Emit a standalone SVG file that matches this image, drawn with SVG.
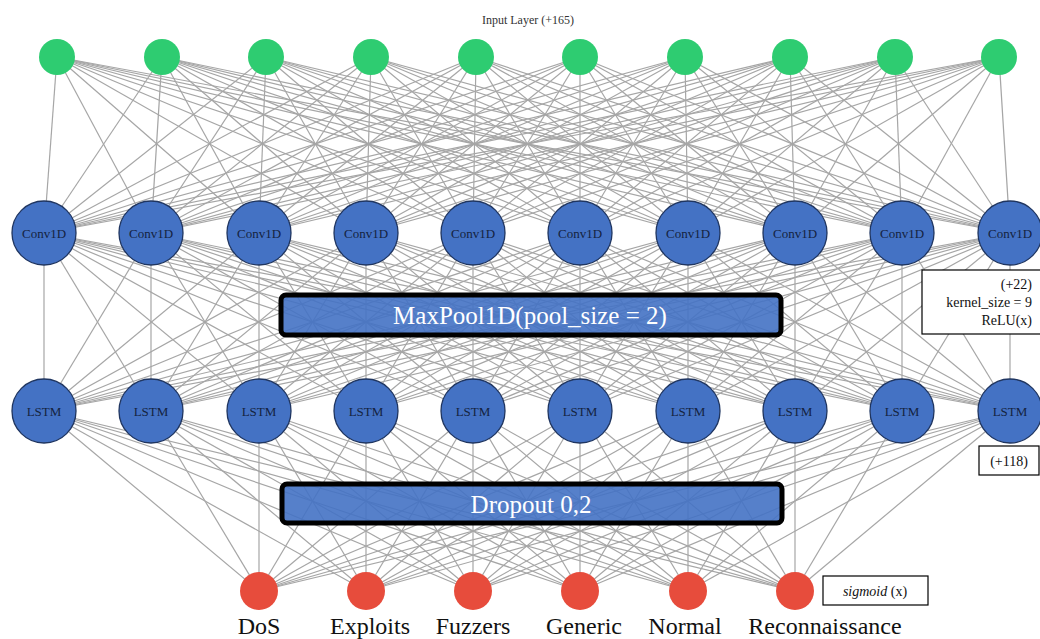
<svg xmlns="http://www.w3.org/2000/svg" width="1040" height="639" viewBox="0 0 1040 639">
<style>
.e{stroke:#a6a6a6;stroke-width:1.2;fill:none}
.in{fill:#2ecc71}
.hid{fill:#4472c4;stroke:#1f3560;stroke-width:1.3}
.out{fill:#e74c3c}
.nt{font-family:"Liberation Serif","Times New Roman",serif;font-size:13px;fill:#14233f;text-anchor:middle}
.lb{font-family:"Liberation Serif","Times New Roman",serif;font-size:24px;fill:#111;text-anchor:middle}
.bar{fill:#4472c4;fill-opacity:0.9;stroke:#000;stroke-width:5}
.bt{font-family:"Liberation Serif","Times New Roman",serif;font-size:25px;fill:#fff;text-anchor:middle}
.note{fill:#fff;stroke:#000;stroke-width:1.2}
.st{font-family:"Liberation Serif","Times New Roman",serif;font-size:14px;fill:#111}
</style>
<rect width="1040" height="639" fill="#fff"/>
<g id="connectors">
<g id="input-conv">
<line class="e" x1="57" y1="57" x2="44" y2="233"/><line class="e" x1="57" y1="57" x2="151" y2="233"/><line class="e" x1="57" y1="57" x2="259" y2="233"/><line class="e" x1="57" y1="57" x2="366" y2="233"/><line class="e" x1="57" y1="57" x2="473" y2="233"/><line class="e" x1="57" y1="57" x2="580" y2="233"/><line class="e" x1="57" y1="57" x2="688" y2="233"/><line class="e" x1="57" y1="57" x2="795" y2="233"/><line class="e" x1="57" y1="57" x2="902" y2="233"/><line class="e" x1="57" y1="57" x2="1010" y2="233"/>
<line class="e" x1="162" y1="57" x2="44" y2="233"/><line class="e" x1="162" y1="57" x2="151" y2="233"/><line class="e" x1="162" y1="57" x2="259" y2="233"/><line class="e" x1="162" y1="57" x2="366" y2="233"/><line class="e" x1="162" y1="57" x2="473" y2="233"/><line class="e" x1="162" y1="57" x2="580" y2="233"/><line class="e" x1="162" y1="57" x2="688" y2="233"/><line class="e" x1="162" y1="57" x2="795" y2="233"/><line class="e" x1="162" y1="57" x2="902" y2="233"/><line class="e" x1="162" y1="57" x2="1010" y2="233"/>
<line class="e" x1="266" y1="57" x2="44" y2="233"/><line class="e" x1="266" y1="57" x2="151" y2="233"/><line class="e" x1="266" y1="57" x2="259" y2="233"/><line class="e" x1="266" y1="57" x2="366" y2="233"/><line class="e" x1="266" y1="57" x2="473" y2="233"/><line class="e" x1="266" y1="57" x2="580" y2="233"/><line class="e" x1="266" y1="57" x2="688" y2="233"/><line class="e" x1="266" y1="57" x2="795" y2="233"/><line class="e" x1="266" y1="57" x2="902" y2="233"/><line class="e" x1="266" y1="57" x2="1010" y2="233"/>
<line class="e" x1="371" y1="57" x2="44" y2="233"/><line class="e" x1="371" y1="57" x2="151" y2="233"/><line class="e" x1="371" y1="57" x2="259" y2="233"/><line class="e" x1="371" y1="57" x2="366" y2="233"/><line class="e" x1="371" y1="57" x2="473" y2="233"/><line class="e" x1="371" y1="57" x2="580" y2="233"/><line class="e" x1="371" y1="57" x2="688" y2="233"/><line class="e" x1="371" y1="57" x2="795" y2="233"/><line class="e" x1="371" y1="57" x2="902" y2="233"/><line class="e" x1="371" y1="57" x2="1010" y2="233"/>
<line class="e" x1="476" y1="57" x2="44" y2="233"/><line class="e" x1="476" y1="57" x2="151" y2="233"/><line class="e" x1="476" y1="57" x2="259" y2="233"/><line class="e" x1="476" y1="57" x2="366" y2="233"/><line class="e" x1="476" y1="57" x2="473" y2="233"/><line class="e" x1="476" y1="57" x2="580" y2="233"/><line class="e" x1="476" y1="57" x2="688" y2="233"/><line class="e" x1="476" y1="57" x2="795" y2="233"/><line class="e" x1="476" y1="57" x2="902" y2="233"/><line class="e" x1="476" y1="57" x2="1010" y2="233"/>
<line class="e" x1="580" y1="57" x2="44" y2="233"/><line class="e" x1="580" y1="57" x2="151" y2="233"/><line class="e" x1="580" y1="57" x2="259" y2="233"/><line class="e" x1="580" y1="57" x2="366" y2="233"/><line class="e" x1="580" y1="57" x2="473" y2="233"/><line class="e" x1="580" y1="57" x2="580" y2="233"/><line class="e" x1="580" y1="57" x2="688" y2="233"/><line class="e" x1="580" y1="57" x2="795" y2="233"/><line class="e" x1="580" y1="57" x2="902" y2="233"/><line class="e" x1="580" y1="57" x2="1010" y2="233"/>
<line class="e" x1="685" y1="57" x2="44" y2="233"/><line class="e" x1="685" y1="57" x2="151" y2="233"/><line class="e" x1="685" y1="57" x2="259" y2="233"/><line class="e" x1="685" y1="57" x2="366" y2="233"/><line class="e" x1="685" y1="57" x2="473" y2="233"/><line class="e" x1="685" y1="57" x2="580" y2="233"/><line class="e" x1="685" y1="57" x2="688" y2="233"/><line class="e" x1="685" y1="57" x2="795" y2="233"/><line class="e" x1="685" y1="57" x2="902" y2="233"/><line class="e" x1="685" y1="57" x2="1010" y2="233"/>
<line class="e" x1="790" y1="57" x2="44" y2="233"/><line class="e" x1="790" y1="57" x2="151" y2="233"/><line class="e" x1="790" y1="57" x2="259" y2="233"/><line class="e" x1="790" y1="57" x2="366" y2="233"/><line class="e" x1="790" y1="57" x2="473" y2="233"/><line class="e" x1="790" y1="57" x2="580" y2="233"/><line class="e" x1="790" y1="57" x2="688" y2="233"/><line class="e" x1="790" y1="57" x2="795" y2="233"/><line class="e" x1="790" y1="57" x2="902" y2="233"/><line class="e" x1="790" y1="57" x2="1010" y2="233"/>
<line class="e" x1="895" y1="57" x2="44" y2="233"/><line class="e" x1="895" y1="57" x2="151" y2="233"/><line class="e" x1="895" y1="57" x2="259" y2="233"/><line class="e" x1="895" y1="57" x2="366" y2="233"/><line class="e" x1="895" y1="57" x2="473" y2="233"/><line class="e" x1="895" y1="57" x2="580" y2="233"/><line class="e" x1="895" y1="57" x2="688" y2="233"/><line class="e" x1="895" y1="57" x2="795" y2="233"/><line class="e" x1="895" y1="57" x2="902" y2="233"/><line class="e" x1="895" y1="57" x2="1010" y2="233"/>
<line class="e" x1="999" y1="57" x2="44" y2="233"/><line class="e" x1="999" y1="57" x2="151" y2="233"/><line class="e" x1="999" y1="57" x2="259" y2="233"/><line class="e" x1="999" y1="57" x2="366" y2="233"/><line class="e" x1="999" y1="57" x2="473" y2="233"/><line class="e" x1="999" y1="57" x2="580" y2="233"/><line class="e" x1="999" y1="57" x2="688" y2="233"/><line class="e" x1="999" y1="57" x2="795" y2="233"/><line class="e" x1="999" y1="57" x2="902" y2="233"/><line class="e" x1="999" y1="57" x2="1010" y2="233"/>
</g>
<g id="conv-lstm">
<line class="e" x1="44" y1="233" x2="44" y2="411"/><line class="e" x1="44" y1="233" x2="151" y2="411"/><line class="e" x1="44" y1="233" x2="259" y2="411"/><line class="e" x1="44" y1="233" x2="366" y2="411"/><line class="e" x1="44" y1="233" x2="473" y2="411"/><line class="e" x1="44" y1="233" x2="580" y2="411"/><line class="e" x1="44" y1="233" x2="688" y2="411"/><line class="e" x1="44" y1="233" x2="795" y2="411"/><line class="e" x1="44" y1="233" x2="902" y2="411"/><line class="e" x1="44" y1="233" x2="1010" y2="411"/>
<line class="e" x1="151" y1="233" x2="44" y2="411"/><line class="e" x1="151" y1="233" x2="151" y2="411"/><line class="e" x1="151" y1="233" x2="259" y2="411"/><line class="e" x1="151" y1="233" x2="366" y2="411"/><line class="e" x1="151" y1="233" x2="473" y2="411"/><line class="e" x1="151" y1="233" x2="580" y2="411"/><line class="e" x1="151" y1="233" x2="688" y2="411"/><line class="e" x1="151" y1="233" x2="795" y2="411"/><line class="e" x1="151" y1="233" x2="902" y2="411"/><line class="e" x1="151" y1="233" x2="1010" y2="411"/>
<line class="e" x1="259" y1="233" x2="44" y2="411"/><line class="e" x1="259" y1="233" x2="151" y2="411"/><line class="e" x1="259" y1="233" x2="259" y2="411"/><line class="e" x1="259" y1="233" x2="366" y2="411"/><line class="e" x1="259" y1="233" x2="473" y2="411"/><line class="e" x1="259" y1="233" x2="580" y2="411"/><line class="e" x1="259" y1="233" x2="688" y2="411"/><line class="e" x1="259" y1="233" x2="795" y2="411"/><line class="e" x1="259" y1="233" x2="902" y2="411"/><line class="e" x1="259" y1="233" x2="1010" y2="411"/>
<line class="e" x1="366" y1="233" x2="44" y2="411"/><line class="e" x1="366" y1="233" x2="151" y2="411"/><line class="e" x1="366" y1="233" x2="259" y2="411"/><line class="e" x1="366" y1="233" x2="366" y2="411"/><line class="e" x1="366" y1="233" x2="473" y2="411"/><line class="e" x1="366" y1="233" x2="580" y2="411"/><line class="e" x1="366" y1="233" x2="688" y2="411"/><line class="e" x1="366" y1="233" x2="795" y2="411"/><line class="e" x1="366" y1="233" x2="902" y2="411"/><line class="e" x1="366" y1="233" x2="1010" y2="411"/>
<line class="e" x1="473" y1="233" x2="44" y2="411"/><line class="e" x1="473" y1="233" x2="151" y2="411"/><line class="e" x1="473" y1="233" x2="259" y2="411"/><line class="e" x1="473" y1="233" x2="366" y2="411"/><line class="e" x1="473" y1="233" x2="473" y2="411"/><line class="e" x1="473" y1="233" x2="580" y2="411"/><line class="e" x1="473" y1="233" x2="688" y2="411"/><line class="e" x1="473" y1="233" x2="795" y2="411"/><line class="e" x1="473" y1="233" x2="902" y2="411"/><line class="e" x1="473" y1="233" x2="1010" y2="411"/>
<line class="e" x1="580" y1="233" x2="44" y2="411"/><line class="e" x1="580" y1="233" x2="151" y2="411"/><line class="e" x1="580" y1="233" x2="259" y2="411"/><line class="e" x1="580" y1="233" x2="366" y2="411"/><line class="e" x1="580" y1="233" x2="473" y2="411"/><line class="e" x1="580" y1="233" x2="580" y2="411"/><line class="e" x1="580" y1="233" x2="688" y2="411"/><line class="e" x1="580" y1="233" x2="795" y2="411"/><line class="e" x1="580" y1="233" x2="902" y2="411"/><line class="e" x1="580" y1="233" x2="1010" y2="411"/>
<line class="e" x1="688" y1="233" x2="44" y2="411"/><line class="e" x1="688" y1="233" x2="151" y2="411"/><line class="e" x1="688" y1="233" x2="259" y2="411"/><line class="e" x1="688" y1="233" x2="366" y2="411"/><line class="e" x1="688" y1="233" x2="473" y2="411"/><line class="e" x1="688" y1="233" x2="580" y2="411"/><line class="e" x1="688" y1="233" x2="688" y2="411"/><line class="e" x1="688" y1="233" x2="795" y2="411"/><line class="e" x1="688" y1="233" x2="902" y2="411"/><line class="e" x1="688" y1="233" x2="1010" y2="411"/>
<line class="e" x1="795" y1="233" x2="44" y2="411"/><line class="e" x1="795" y1="233" x2="151" y2="411"/><line class="e" x1="795" y1="233" x2="259" y2="411"/><line class="e" x1="795" y1="233" x2="366" y2="411"/><line class="e" x1="795" y1="233" x2="473" y2="411"/><line class="e" x1="795" y1="233" x2="580" y2="411"/><line class="e" x1="795" y1="233" x2="688" y2="411"/><line class="e" x1="795" y1="233" x2="795" y2="411"/><line class="e" x1="795" y1="233" x2="902" y2="411"/><line class="e" x1="795" y1="233" x2="1010" y2="411"/>
<line class="e" x1="902" y1="233" x2="44" y2="411"/><line class="e" x1="902" y1="233" x2="151" y2="411"/><line class="e" x1="902" y1="233" x2="259" y2="411"/><line class="e" x1="902" y1="233" x2="366" y2="411"/><line class="e" x1="902" y1="233" x2="473" y2="411"/><line class="e" x1="902" y1="233" x2="580" y2="411"/><line class="e" x1="902" y1="233" x2="688" y2="411"/><line class="e" x1="902" y1="233" x2="795" y2="411"/><line class="e" x1="902" y1="233" x2="902" y2="411"/><line class="e" x1="902" y1="233" x2="1010" y2="411"/>
<line class="e" x1="1010" y1="233" x2="44" y2="411"/><line class="e" x1="1010" y1="233" x2="151" y2="411"/><line class="e" x1="1010" y1="233" x2="259" y2="411"/><line class="e" x1="1010" y1="233" x2="366" y2="411"/><line class="e" x1="1010" y1="233" x2="473" y2="411"/><line class="e" x1="1010" y1="233" x2="580" y2="411"/><line class="e" x1="1010" y1="233" x2="688" y2="411"/><line class="e" x1="1010" y1="233" x2="795" y2="411"/><line class="e" x1="1010" y1="233" x2="902" y2="411"/><line class="e" x1="1010" y1="233" x2="1010" y2="411"/>
</g>
<g id="lstm-output">
<line class="e" x1="44" y1="411" x2="259" y2="591"/><line class="e" x1="44" y1="411" x2="366" y2="591"/><line class="e" x1="44" y1="411" x2="473" y2="591"/><line class="e" x1="44" y1="411" x2="580" y2="591"/><line class="e" x1="44" y1="411" x2="688" y2="591"/><line class="e" x1="44" y1="411" x2="795" y2="591"/>
<line class="e" x1="151" y1="411" x2="259" y2="591"/><line class="e" x1="151" y1="411" x2="366" y2="591"/><line class="e" x1="151" y1="411" x2="473" y2="591"/><line class="e" x1="151" y1="411" x2="580" y2="591"/><line class="e" x1="151" y1="411" x2="688" y2="591"/><line class="e" x1="151" y1="411" x2="795" y2="591"/>
<line class="e" x1="259" y1="411" x2="259" y2="591"/><line class="e" x1="259" y1="411" x2="366" y2="591"/><line class="e" x1="259" y1="411" x2="473" y2="591"/><line class="e" x1="259" y1="411" x2="580" y2="591"/><line class="e" x1="259" y1="411" x2="688" y2="591"/><line class="e" x1="259" y1="411" x2="795" y2="591"/>
<line class="e" x1="366" y1="411" x2="259" y2="591"/><line class="e" x1="366" y1="411" x2="366" y2="591"/><line class="e" x1="366" y1="411" x2="473" y2="591"/><line class="e" x1="366" y1="411" x2="580" y2="591"/><line class="e" x1="366" y1="411" x2="688" y2="591"/><line class="e" x1="366" y1="411" x2="795" y2="591"/>
<line class="e" x1="473" y1="411" x2="259" y2="591"/><line class="e" x1="473" y1="411" x2="366" y2="591"/><line class="e" x1="473" y1="411" x2="473" y2="591"/><line class="e" x1="473" y1="411" x2="580" y2="591"/><line class="e" x1="473" y1="411" x2="688" y2="591"/><line class="e" x1="473" y1="411" x2="795" y2="591"/>
<line class="e" x1="580" y1="411" x2="259" y2="591"/><line class="e" x1="580" y1="411" x2="366" y2="591"/><line class="e" x1="580" y1="411" x2="473" y2="591"/><line class="e" x1="580" y1="411" x2="580" y2="591"/><line class="e" x1="580" y1="411" x2="688" y2="591"/><line class="e" x1="580" y1="411" x2="795" y2="591"/>
<line class="e" x1="688" y1="411" x2="259" y2="591"/><line class="e" x1="688" y1="411" x2="366" y2="591"/><line class="e" x1="688" y1="411" x2="473" y2="591"/><line class="e" x1="688" y1="411" x2="580" y2="591"/><line class="e" x1="688" y1="411" x2="688" y2="591"/><line class="e" x1="688" y1="411" x2="795" y2="591"/>
<line class="e" x1="795" y1="411" x2="259" y2="591"/><line class="e" x1="795" y1="411" x2="366" y2="591"/><line class="e" x1="795" y1="411" x2="473" y2="591"/><line class="e" x1="795" y1="411" x2="580" y2="591"/><line class="e" x1="795" y1="411" x2="688" y2="591"/><line class="e" x1="795" y1="411" x2="795" y2="591"/>
<line class="e" x1="902" y1="411" x2="259" y2="591"/><line class="e" x1="902" y1="411" x2="366" y2="591"/><line class="e" x1="902" y1="411" x2="473" y2="591"/><line class="e" x1="902" y1="411" x2="580" y2="591"/><line class="e" x1="902" y1="411" x2="688" y2="591"/><line class="e" x1="902" y1="411" x2="795" y2="591"/>
<line class="e" x1="1010" y1="411" x2="259" y2="591"/><line class="e" x1="1010" y1="411" x2="366" y2="591"/><line class="e" x1="1010" y1="411" x2="473" y2="591"/><line class="e" x1="1010" y1="411" x2="580" y2="591"/><line class="e" x1="1010" y1="411" x2="688" y2="591"/><line class="e" x1="1010" y1="411" x2="795" y2="591"/>
</g>
</g>
<text x="528" y="24" font-family="Liberation Serif, Times New Roman, serif" font-size="12" fill="#333" text-anchor="middle">Input Layer (+165)</text>
<g id="input-layer">
<g id="in1"><circle class="in" cx="57" cy="57" r="18"/></g>
<g id="in2"><circle class="in" cx="162" cy="57" r="18"/></g>
<g id="in3"><circle class="in" cx="266" cy="57" r="18"/></g>
<g id="in4"><circle class="in" cx="371" cy="57" r="18"/></g>
<g id="in5"><circle class="in" cx="476" cy="57" r="18"/></g>
<g id="in6"><circle class="in" cx="580" cy="57" r="18"/></g>
<g id="in7"><circle class="in" cx="685" cy="57" r="18"/></g>
<g id="in8"><circle class="in" cx="790" cy="57" r="18"/></g>
<g id="in9"><circle class="in" cx="895" cy="57" r="18"/></g>
<g id="in10"><circle class="in" cx="999" cy="57" r="18"/></g>
</g>
<g id="conv-layer">
<g id="conv1"><circle class="hid" cx="44" cy="233" r="32"/><text class="nt" x="44" y="238">Conv1D</text></g>
<g id="conv2"><circle class="hid" cx="151" cy="233" r="32"/><text class="nt" x="151" y="238">Conv1D</text></g>
<g id="conv3"><circle class="hid" cx="259" cy="233" r="32"/><text class="nt" x="259" y="238">Conv1D</text></g>
<g id="conv4"><circle class="hid" cx="366" cy="233" r="32"/><text class="nt" x="366" y="238">Conv1D</text></g>
<g id="conv5"><circle class="hid" cx="473" cy="233" r="32"/><text class="nt" x="473" y="238">Conv1D</text></g>
<g id="conv6"><circle class="hid" cx="580" cy="233" r="32"/><text class="nt" x="580" y="238">Conv1D</text></g>
<g id="conv7"><circle class="hid" cx="688" cy="233" r="32"/><text class="nt" x="688" y="238">Conv1D</text></g>
<g id="conv8"><circle class="hid" cx="795" cy="233" r="32"/><text class="nt" x="795" y="238">Conv1D</text></g>
<g id="conv9"><circle class="hid" cx="902" cy="233" r="32"/><text class="nt" x="902" y="238">Conv1D</text></g>
<g id="conv10"><circle class="hid" cx="1010" cy="233" r="32"/><text class="nt" x="1010" y="238">Conv1D</text></g>
</g>
<g id="lstm-layer">
<g id="lstm1"><circle class="hid" cx="44" cy="411" r="32"/><text class="nt" x="44" y="416">LSTM</text></g>
<g id="lstm2"><circle class="hid" cx="151" cy="411" r="32"/><text class="nt" x="151" y="416">LSTM</text></g>
<g id="lstm3"><circle class="hid" cx="259" cy="411" r="32"/><text class="nt" x="259" y="416">LSTM</text></g>
<g id="lstm4"><circle class="hid" cx="366" cy="411" r="32"/><text class="nt" x="366" y="416">LSTM</text></g>
<g id="lstm5"><circle class="hid" cx="473" cy="411" r="32"/><text class="nt" x="473" y="416">LSTM</text></g>
<g id="lstm6"><circle class="hid" cx="580" cy="411" r="32"/><text class="nt" x="580" y="416">LSTM</text></g>
<g id="lstm7"><circle class="hid" cx="688" cy="411" r="32"/><text class="nt" x="688" y="416">LSTM</text></g>
<g id="lstm8"><circle class="hid" cx="795" cy="411" r="32"/><text class="nt" x="795" y="416">LSTM</text></g>
<g id="lstm9"><circle class="hid" cx="902" cy="411" r="32"/><text class="nt" x="902" y="416">LSTM</text></g>
<g id="lstm10"><circle class="hid" cx="1010" cy="411" r="32"/><text class="nt" x="1010" y="416">LSTM</text></g>
</g>
<g id="output-layer">
<g id="out-dos"><circle class="out" cx="259" cy="591" r="19"/><text class="lb" x="259" y="634">DoS</text></g>
<g id="out-exploits"><circle class="out" cx="366" cy="591" r="19"/><text class="lb" x="370" y="634">Exploits</text></g>
<g id="out-fuzzers"><circle class="out" cx="473" cy="591" r="19"/><text class="lb" x="473" y="634">Fuzzers</text></g>
<g id="out-generic"><circle class="out" cx="580" cy="591" r="19"/><text class="lb" x="584" y="634">Generic</text></g>
<g id="out-normal"><circle class="out" cx="688" cy="591" r="19"/><text class="lb" x="685" y="634">Normal</text></g>
<g id="out-recon"><circle class="out" cx="795" cy="591" r="19"/><text class="lb" x="825" y="634">Reconnaissance</text></g>
</g>
<g id="maxpool"><rect class="bar" x="281" y="295" width="500" height="40" rx="5"/><text class="bt" x="530" y="324">MaxPool1D(pool_size = 2)</text></g>
<g id="dropout"><rect class="bar" x="282" y="484" width="500" height="39" rx="5"/><text class="bt" x="531" y="513">Dropout 0,2</text></g>
<g id="conv-note"><rect class="note" x="922" y="270" width="125" height="64"/>
<text class="st" text-anchor="end"><tspan x="1032" y="289">(+22)</tspan><tspan x="1032" y="307">kernel_size = 9</tspan><tspan x="1032" y="325">ReLU(x)</tspan></text></g>
<g id="lstm-note"><rect class="note" x="979" y="446" width="60" height="29"/><text class="st" x="1009" y="466" text-anchor="middle">(+118)</text></g>
<g id="out-note"><rect class="note" x="823" y="576" width="105" height="29"/><text class="st" x="875" y="596" text-anchor="middle"><tspan font-style="italic">sigmoid</tspan> (x)</text></g>
</svg>
